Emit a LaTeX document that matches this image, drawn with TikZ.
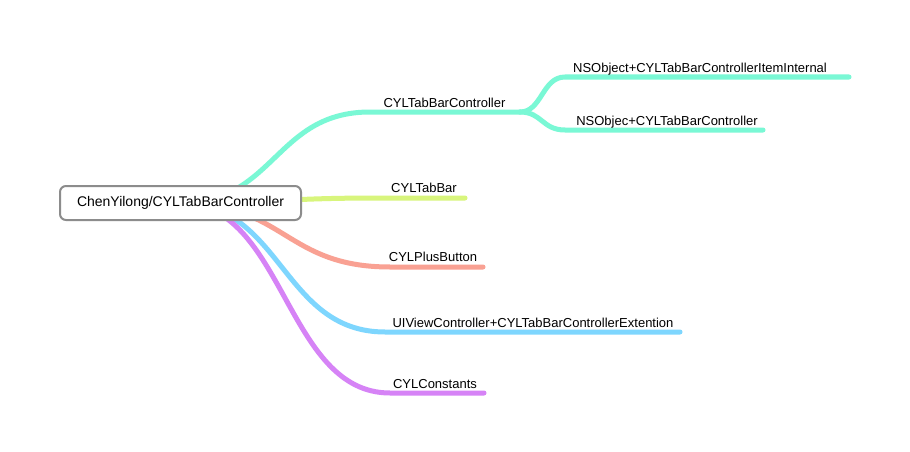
\documentclass[tikz,border=0pt]{standalone}
\usepackage{fontspec}
\setmainfont{Liberation Sans}
\usetikzlibrary{backgrounds}
\definecolor{cteal}{HTML}{7AF8D5}
\definecolor{cgreen}{HTML}{D8F57C}
\definecolor{csalmon}{HTML}{F9A193}
\definecolor{cblue}{HTML}{7ED6FE}
\definecolor{cpurple}{HTML}{D683F6}
\definecolor{cborder}{HTML}{8C8C8C}
\tikzset{
  rootbox/.style={draw=cborder, line width=2pt, rounded corners=6pt, fill=white,
    minimum width=241pt, minimum height=34pt, inner sep=0pt, font=\fontsize{14}{16}\selectfont},
  lbl/.style={anchor=base, inner sep=0pt, font=\fontsize{13}{15}\selectfont},
  branch/.style={line width=5pt, line cap=round},
}
\begin{document}
\begin{tikzpicture}[x=1pt,y=-1pt]
\useasboundingbox (0,0) rectangle (910,452);
\node[rootbox] (root) at (180.5,203) {ChenYilong/CYLTabBarController};
\coordinate (rc) at (180,203);
% labels
\node[lbl] (l1) at (444.5,107) {CYLTabBarController};
\node[lbl] (l11) at (700,72) {NSObject+CYLTabBarControllerItemInternal};
\node[lbl] (l12) at (667,125) {NSObjec+CYLTabBarController};
\node[lbl] (l2) at (424,192) {CYLTabBar};
\node[lbl] (l3) at (433,261) {CYLPlusButton};
\node[lbl] (l4) at (533,327) {UIViewController+CYLTabBarControllerExtention};
\node[lbl] (l5) at (435,388) {CYLConstants};
% line coordinates
\coordinate (a1) at (370,112); \coordinate (b1) at (520,112);
\coordinate (a11) at (565,77); \coordinate (b11) at (849,77);
\coordinate (a12) at (565,130); \coordinate (b12) at (763,130);
\coordinate (a2) at (380,198); \coordinate (b2) at (465,198);
\coordinate (a3) at (390,267); \coordinate (b3) at (483,267);
\coordinate (a4) at (385,332); \coordinate (b4) at (680,332);
\coordinate (a5) at (390,393); \coordinate (b5) at (484,393);
\begin{scope}[on background layer]
\fill[white] (0,0) rectangle (910,452);
\draw[branch, cteal] (rc) .. controls (275,203) and (275,112) .. (a1) -- (b1);
\draw[branch, cteal] (b1) .. controls (542,112) and (542,77) .. (a11) -- (b11);
\draw[branch, cteal] (b1) .. controls (542,112) and (542,130) .. (a12) -- (b12);
\draw[branch, cgreen] (rc) .. controls (280,203) and (280,198) .. (a2) -- (b2);
\draw[branch, csalmon] (rc) .. controls (285,203) and (285,267) .. (a3) -- (b3);
\draw[branch, cblue] (rc) .. controls (282,203) and (282,332) .. (a4) -- (b4);
\draw[branch, cpurple] (rc) .. controls (285,203) and (285,393) .. (a5) -- (b5);
\end{scope}
\end{tikzpicture}
\end{document}
